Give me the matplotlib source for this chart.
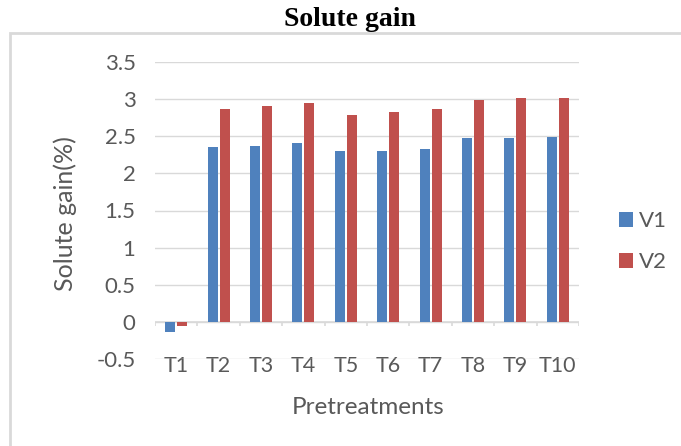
import numpy as np
import matplotlib
matplotlib.use("Agg")
import matplotlib.pyplot as plt
from matplotlib.patches import Rectangle

# Data
categories = ["T1", "T2", "T3", "T4", "T5", "T6", "T7", "T8", "T9", "T10"]
v1 = [-0.13, 2.35, 2.37, 2.41, 2.30, 2.30, 2.33, 2.47, 2.47, 2.49]
v2 = [-0.06, 2.87, 2.91, 2.95, 2.78, 2.82, 2.87, 2.99, 3.02, 3.02]
series_names = ["V1", "V2"]
y_ticks = [-0.5, 0, 0.5, 1, 1.5, 2, 2.5, 3, 3.5]
y_tick_labels = ["-0.5", "0", "0.5", "1", "1.5", "2", "2.5", "3", "3.5"]

BLUE = "#4F81BD"
RED = "#C0504D"
GRID = "#d9d9d9"
TEXT = "#595959"
SANS = ["Lato", "DejaVu Sans"]

fig = plt.figure(figsize=(6.81, 4.46), dpi=100)
fig.patch.set_facecolor("white")

# Chart-area border
fig.patches.append(Rectangle((10 / 681, -0.2), 1.5, 0.2 + (446 - 33) / 446,
                             transform=fig.transFigure, fill=False,
                             edgecolor=GRID, linewidth=2.0))

ax = fig.add_axes([155 / 681, 1 - 359 / 446, 424 / 681, 297 / 446])

x = np.arange(len(categories))
w = 0.235
off = 0.141
b1 = ax.bar(x - off, v1, width=w, color=BLUE, zorder=3, label=series_names[0])
b2 = ax.bar(x + off, v2, width=w, color=RED, zorder=3, label=series_names[1])

ax.set_xlim(-0.5, len(categories) - 0.5)
ax.set_ylim(-0.5, 3.5)
ax.set_yticks(y_ticks)
ax.set_yticklabels(y_tick_labels)
ax.yaxis.grid(True, color=GRID, linewidth=1.0, zorder=0)
ax.set_axisbelow(True)

for s in ax.spines.values():
    s.set_visible(False)

ax.set_xticks(x)
ax.set_xticklabels(categories)
ax.tick_params(axis="x", length=0, pad=-2.5, labelsize=15.5, labelcolor=TEXT)
ax.tick_params(axis="y", length=0, pad=14, labelsize=16, labelcolor=TEXT)
for lab in ax.get_xticklabels() + ax.get_yticklabels():
    lab.set_family(SANS)

# Horizontal category axis at zero with boundary ticks
ax.axhline(0, color=GRID, linewidth=1.2, zorder=2)
ax.vlines(np.arange(-0.5, len(categories), 1.0), -0.06, 0, color=GRID,
          linewidth=1.2, zorder=2)

fig.text(350 / 681, 1 - 26 / 446, "Solute gain", ha="center", va="baseline",
         fontsize=20, fontweight="bold", family=["Liberation Serif"])
fig.text(65 / 681, 1 - 214 / 446, "Solute gain(%)", rotation=90, ha="center",
         va="center", fontsize=18, color=TEXT, family=SANS)
fig.text(368 / 681, 1 - 414 / 446, "Pretreatments", ha="center",
         va="baseline", fontsize=17.5, color=TEXT, family=SANS)

leg = ax.legend(handles=[b1, b2], loc="upper left",
                bbox_to_anchor=(619 / 681, 1 - 211 / 446),
                bbox_transform=fig.transFigure, frameon=False,
                fontsize=16, handlelength=0.65, handleheight=0.65,
                handletextpad=0.25, labelspacing=0.95, borderpad=0,
                borderaxespad=0)
for t in leg.get_texts():
    t.set_color(TEXT)
    t.set_family(SANS)

fig.savefig("out.png", dpi=100, facecolor="white")
